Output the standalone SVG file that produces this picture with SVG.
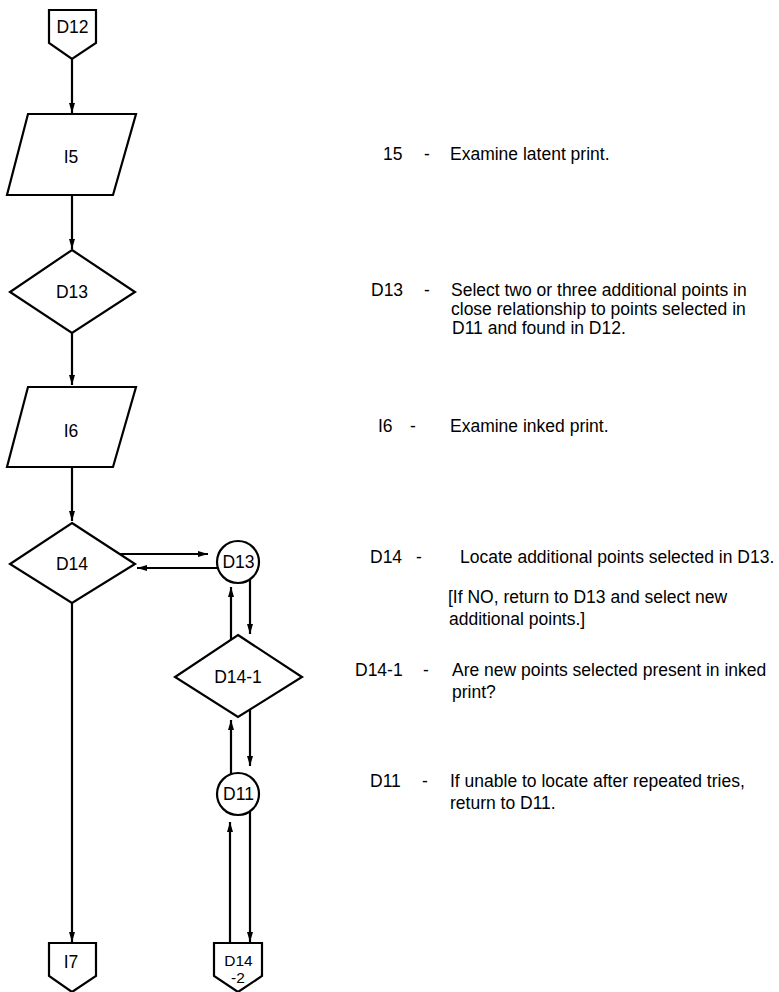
<svg xmlns="http://www.w3.org/2000/svg" width="779" height="992" viewBox="0 0 779 992">
<style>
.s{fill:#fff;stroke:#000;stroke-width:2.2;stroke-linejoin:miter}
.c{stroke:#000;stroke-width:2.2;fill:none}
.t{font-family:"Liberation Sans",Arial,Helvetica,sans-serif;font-size:17.5px;fill:#000}
.m{text-anchor:middle}
.d{font-family:"Liberation Sans",Arial,Helvetica,sans-serif;font-size:17.5px;fill:#000}
</style>
<defs>
<marker id="ah" markerUnits="userSpaceOnUse" markerWidth="10" markerHeight="6" refX="10" refY="3" orient="auto">
<path d="M0,0 L10,3 L0,6 z" fill="#000"/>
</marker>
</defs>
<rect width="779" height="992" fill="#fff"/>
<g id="connectors">
<line class="c" x1="72" y1="59" x2="72" y2="113" marker-end="url(#ah)"/>
<line class="c" x1="72" y1="195" x2="72" y2="249" marker-end="url(#ah)"/>
<line class="c" x1="72" y1="333" x2="72" y2="385" marker-end="url(#ah)"/>
<line class="c" x1="72" y1="467" x2="72" y2="521" marker-end="url(#ah)"/>
<line class="c" x1="120" y1="554" x2="208" y2="554" marker-end="url(#ah)"/>
<line class="c" x1="217" y1="568" x2="137" y2="568" marker-end="url(#ah)"/>
<line class="c" x1="250" y1="579" x2="250" y2="634" marker-end="url(#ah)"/>
<line class="c" x1="231" y1="640" x2="231" y2="587" marker-end="url(#ah)"/>
<line class="c" x1="250" y1="710" x2="250" y2="766" marker-end="url(#ah)"/>
<line class="c" x1="231" y1="775" x2="231" y2="720" marker-end="url(#ah)"/>
<line class="c" x1="230" y1="943" x2="230" y2="822" marker-end="url(#ah)"/>
<line class="c" x1="250" y1="812" x2="250" y2="942" marker-end="url(#ah)"/>
<line class="c" x1="72" y1="603" x2="72" y2="942" marker-end="url(#ah)"/>
</g>
<g id="D12">
<polygon class="s" points="49,10 96,10 96,43 72,59 49,43"/>
<text class="t m" x="72.5" y="33">D12</text>
</g>
<g id="I5">
<polygon class="s" points="28,114 136,114 113,195 7,195"/>
<text class="t m" x="71" y="163">I5</text>
</g>
<g id="D13">
<polygon class="s" points="72,250 135,292 72,333 10,292"/>
<text class="t m" x="72" y="298">D13</text>
</g>
<g id="I6">
<polygon class="s" points="28,387 136,387 113,467 7,467"/>
<text class="t m" x="71" y="437">I6</text>
</g>
<g id="D14">
<polygon class="s" points="72,523 135,564 72,603 10,564"/>
<text class="t m" x="72" y="570">D14</text>
</g>
<g id="D13c">
<circle class="s" cx="238" cy="562" r="21"/>
<text class="t m" x="238.5" y="568">D13</text>
</g>
<g id="D14-1">
<polygon class="s" points="238,635 302,677 238,717 175,677"/>
<text class="t m" x="238" y="683">D14-1</text>
</g>
<g id="D11c">
<circle class="s" cx="238" cy="794" r="21"/>
<text class="t m" x="238.5" y="800">D11</text>
</g>
<g id="I7">
<polygon class="s" points="49,943 96,943 96,976 72,992 49,976"/>
<text class="t m" x="71" y="968">I7</text>
</g>
<g id="D14-2">
<polygon class="s" points="214,943 262,943 262,976 238,992 214,976"/>
<text class="t m" x="238.5" y="966" style="font-size:15.5px">D14</text>
<text class="t m" x="238" y="983" style="font-size:15.5px">-2</text>
</g>
<g id="legend">
<text class="d" x="383" y="160">15</text>
<text class="d" x="424" y="160">-</text>
<text class="d" x="450" y="160">Examine latent print.</text>
<text class="d" x="371" y="296">D13</text>
<text class="d" x="424" y="296">-</text>
<text class="d" x="451" y="296">Select two or three additional points in</text>
<text class="d" x="451" y="315">close relationship to points selected in</text>
<text class="d" x="452" y="334">D11 and found in D12.</text>
<text class="d" x="378" y="432">I6</text>
<text class="d" x="410" y="432">-</text>
<text class="d" x="450" y="432">Examine inked print.</text>
<text class="d" x="370" y="563">D14</text>
<text class="d" x="416" y="563">-</text>
<text class="d" x="460" y="563">Locate additional points selected in D13.</text>
<text class="d" x="448" y="603">[If NO, return to D13 and select new</text>
<text class="d" x="449" y="625">additional points.]</text>
<text class="d" x="355" y="676">D14-1</text>
<text class="d" x="423" y="676">-</text>
<text class="d" x="452" y="676">Are new points selected present in inked</text>
<text class="d" x="452" y="698">print?</text>
<text class="d" x="370" y="787">D11</text>
<text class="d" x="422" y="787">-</text>
<text class="d" x="450" y="787">If unable to locate after repeated tries,</text>
<text class="d" x="450" y="809">return to D11.</text>
</g>
</svg>
